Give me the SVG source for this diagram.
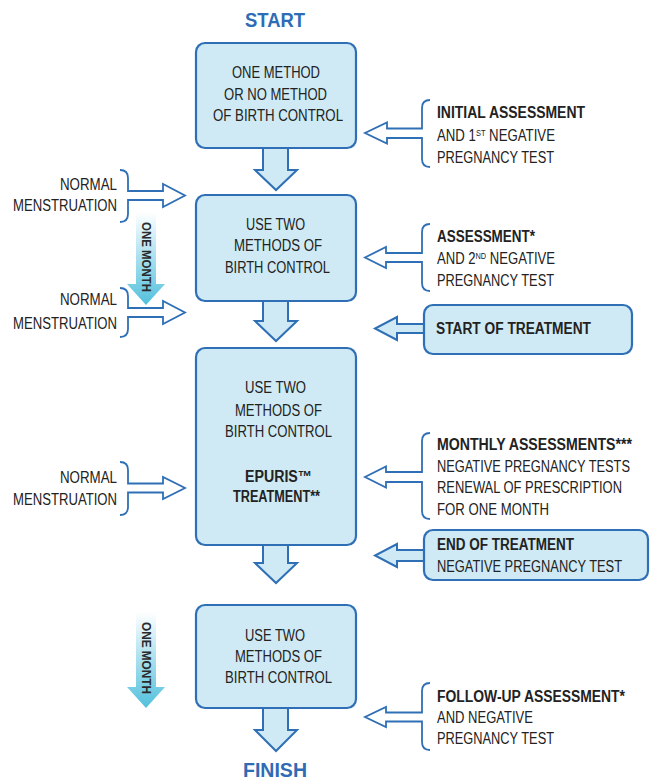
<svg xmlns="http://www.w3.org/2000/svg" width="651" height="780" viewBox="0 0 651 780">
<style>
.box{fill:#cfeaf4;stroke:#2f6fb5;stroke-width:2.2}
.farrow{fill:#cfeaf4;stroke:#2f6fb5;stroke-width:2;stroke-linejoin:miter}
.harrow{fill:none;stroke:#2f6fb5;stroke-width:1.8;stroke-linejoin:miter}
.t{font-family:"Liberation Sans",Arial,sans-serif;font-size:16px;fill:#222}
.b{font-weight:bold}
.c{text-anchor:middle}
.e{text-anchor:end}
.sup{font-size:9px}
.title{font-family:"Liberation Sans",Arial,sans-serif;font-size:21px;font-weight:bold;fill:#2e6cb5;text-anchor:middle}
.mon{font-family:"Liberation Sans",Arial,sans-serif;font-size:12.5px;font-weight:bold;fill:#2a2a2a;text-anchor:middle}
</style>
<defs>
<linearGradient id="mg" x1="0" y1="0" x2="0" y2="1">
<stop offset="0" stop-color="#ffffff"/>
<stop offset="1" stop-color="#52c0dc"/>
</linearGradient>
</defs>

<text class="title" x="275" y="27" textLength="60" lengthAdjust="spacingAndGlyphs">START</text>
<text class="title" x="275" y="777" textLength="64" lengthAdjust="spacingAndGlyphs">FINISH</text>

<g id="connectors">
<path class="farrow" d="M263,149 V170 H255 L276,190 L297,170 H288 V149"/>
<path class="farrow" d="M263,302 V321 H255 L276,341 L297,321 H288 V302"/>
<path class="farrow" d="M263,546 V563 H255 L276,583 L297,563 H288 V546"/>
<path class="farrow" d="M263,709 V730 H255 L276,751 L297,730 H288 V709"/>
<path class="harrow" d="M430,100 Q422,100 422,108 V128.5 H387 V122.5 L365,133 L387,143.5 V138 H422 V159 Q422,167 430,167"/>
<path class="harrow" d="M430,224 Q422,224 422,232 V253 H386 V247 L365,257.5 L386,268 V262 H422 V283 Q422,291 430,291"/>
<path class="harrow" d="M430,433 Q422,433 422,441 V472 H386 V466.5 L365,477 L386,487.5 V482 H422 V511 Q422,519 430,519"/>
<path class="harrow" d="M430,683 Q422,683 422,691 V712.5 H386 V707 L365,717 L386,727 V721.5 H422 V742 Q422,750 430,750"/>
<path class="harrow" d="M120,170 Q128,170 128,178 V191 H163 V184 L185,195.5 L163,207 V200 H128 V214 Q128,222 120,222"/>
<path class="harrow" d="M120,288 Q128,288 128,296 V308 H163 V301 L185,312.5 L163,324 V317 H128 V329 Q128,337 120,337"/>
<path class="harrow" d="M120,462 Q128,462 128,470 V483.5 H163 V477 L185,488 L163,499 V492.5 H128 V507 Q128,515 120,515"/>
<path class="farrow" d="M425,324 H397 V317 L375,328.5 L397,340 V333 H425"/>
<path class="farrow" d="M425,550 H397 V544 L375,555.5 L397,567 V561 H425"/>
</g>

<g id="month1">
<path d="M136,212 H156 V284 H165 L146,305 L127,284 H136 Z" fill="url(#mg)"/>
<text class="mon" transform="translate(146,257) rotate(90)" x="0" y="4.5" textLength="70" lengthAdjust="spacingAndGlyphs">ONE MONTH</text>
</g>
<g id="month2">
<path d="M136,612 H156 V687 H165 L146,708 L127,687 H136 Z" fill="url(#mg)"/>
<text class="mon" transform="translate(146,658) rotate(90)" x="0" y="4.5" textLength="72" lengthAdjust="spacingAndGlyphs">ONE MONTH</text>
</g>

<g id="box1">
<rect class="box" x="196" y="43" width="160" height="105" rx="9"/>
<text class="t c" x="276" y="78" textLength="88" lengthAdjust="spacingAndGlyphs">ONE METHOD</text>
<text class="t c" x="275.5" y="100" textLength="103" lengthAdjust="spacingAndGlyphs">OR NO METHOD</text>
<text class="t c" x="278" y="120.5" textLength="130" lengthAdjust="spacingAndGlyphs">OF BIRTH CONTROL</text>
</g>
<g id="box2">
<rect class="box" x="196" y="195" width="160" height="106" rx="9"/>
<text class="t c" x="275.5" y="230" textLength="59" lengthAdjust="spacingAndGlyphs">USE TWO</text>
<text class="t c" x="278" y="251" textLength="88" lengthAdjust="spacingAndGlyphs">METHODS OF</text>
<text class="t c" x="277.5" y="273" textLength="105" lengthAdjust="spacingAndGlyphs">BIRTH CONTROL</text>
</g>
<g id="box3">
<rect class="box" x="196" y="348" width="160" height="197" rx="9"/>
<text class="t c" x="275.5" y="393" textLength="61" lengthAdjust="spacingAndGlyphs">USE TWO</text>
<text class="t c" x="278.5" y="416" textLength="87" lengthAdjust="spacingAndGlyphs">METHODS OF</text>
<text class="t c" x="278.5" y="437" textLength="107" lengthAdjust="spacingAndGlyphs">BIRTH CONTROL</text>
<text class="t b c" x="278.5" y="482" textLength="67" lengthAdjust="spacingAndGlyphs">EPURIS™</text>
<text class="t b c" x="276.5" y="502" textLength="87" lengthAdjust="spacingAndGlyphs">TREATMENT**</text>
</g>
<g id="box4">
<rect class="box" x="196" y="605" width="160" height="103" rx="9"/>
<text class="t c" x="275" y="641" textLength="60" lengthAdjust="spacingAndGlyphs">USE TWO</text>
<text class="t c" x="278.5" y="662" textLength="87" lengthAdjust="spacingAndGlyphs">METHODS OF</text>
<text class="t c" x="278.5" y="683" textLength="107" lengthAdjust="spacingAndGlyphs">BIRTH CONTROL</text>
</g>

<g id="start-treatment">
<rect class="box" x="424" y="305" width="208" height="49" rx="9"/>
<text class="t b" x="436" y="334" textLength="155" lengthAdjust="spacingAndGlyphs">START OF TREATMENT</text>
</g>
<g id="end-treatment">
<rect class="box" x="424" y="530" width="224" height="50" rx="9"/>
<text class="t b" x="437" y="550" textLength="137" lengthAdjust="spacingAndGlyphs">END OF TREATMENT</text>
<text class="t" x="437" y="572" textLength="185" lengthAdjust="spacingAndGlyphs">NEGATIVE PREGNANCY TEST</text>
</g>

<g id="initial-assessment">
<text class="t b" x="437" y="118" textLength="148" lengthAdjust="spacingAndGlyphs">INITIAL ASSESSMENT</text>
<text class="t" x="437" y="141" textLength="118" lengthAdjust="spacingAndGlyphs">AND 1<tspan class="sup" dy="-5.5">ST</tspan><tspan dy="5.5"> NEGATIVE</tspan></text>
<text class="t" x="437" y="163" textLength="117" lengthAdjust="spacingAndGlyphs">PREGNANCY TEST</text>
</g>
<g id="assessment">
<text class="t b" x="437" y="242" textLength="98" lengthAdjust="spacingAndGlyphs">ASSESSMENT*</text>
<text class="t" x="437" y="264" textLength="118" lengthAdjust="spacingAndGlyphs">AND 2<tspan class="sup" dy="-5.5">ND</tspan><tspan dy="5.5"> NEGATIVE</tspan></text>
<text class="t" x="437" y="286" textLength="117" lengthAdjust="spacingAndGlyphs">PREGNANCY TEST</text>
</g>
<g id="monthly-assessments">
<text class="t b" x="437" y="450" textLength="195" lengthAdjust="spacingAndGlyphs">MONTHLY ASSESSMENTS***</text>
<text class="t" x="437" y="472" textLength="193" lengthAdjust="spacingAndGlyphs">NEGATIVE PREGNANCY TESTS</text>
<text class="t" x="437" y="493" textLength="185" lengthAdjust="spacingAndGlyphs">RENEWAL OF PRESCRIPTION</text>
<text class="t" x="437" y="515" textLength="112" lengthAdjust="spacingAndGlyphs">FOR ONE MONTH</text>
</g>
<g id="follow-up">
<text class="t b" x="437" y="702" textLength="188" lengthAdjust="spacingAndGlyphs">FOLLOW-UP ASSESSMENT*</text>
<text class="t" x="437" y="723" textLength="96" lengthAdjust="spacingAndGlyphs">AND NEGATIVE</text>
<text class="t" x="437" y="744" textLength="117" lengthAdjust="spacingAndGlyphs">PREGNANCY TEST</text>
</g>

<g id="menstruation1">
<text class="t e" x="117" y="190" textLength="57" lengthAdjust="spacingAndGlyphs">NORMAL</text>
<text class="t e" x="117" y="211" textLength="104" lengthAdjust="spacingAndGlyphs">MENSTRUATION</text>
</g>
<g id="menstruation2">
<text class="t e" x="117" y="305" textLength="57" lengthAdjust="spacingAndGlyphs">NORMAL</text>
<text class="t e" x="117" y="329" textLength="104" lengthAdjust="spacingAndGlyphs">MENSTRUATION</text>
</g>
<g id="menstruation3">
<text class="t e" x="117" y="483" textLength="57" lengthAdjust="spacingAndGlyphs">NORMAL</text>
<text class="t e" x="117" y="505" textLength="104" lengthAdjust="spacingAndGlyphs">MENSTRUATION</text>
</g>
</svg>
